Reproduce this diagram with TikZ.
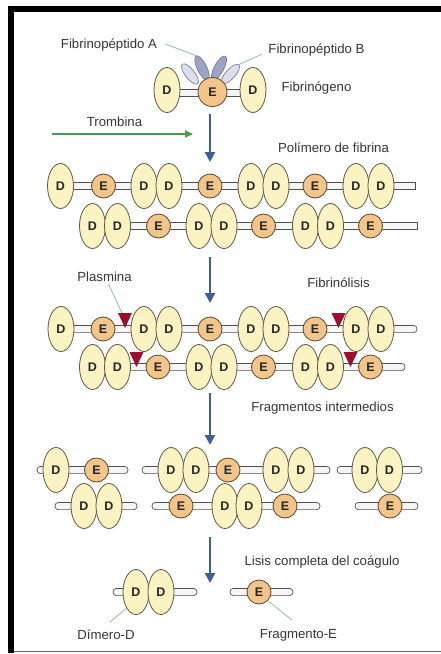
\documentclass[tikz,border=0pt]{standalone}
\usepackage{fontspec}
\setmainfont{Liberation Sans}
\usetikzlibrary{shapes.geometric,arrows.meta}

\definecolor{txt}{HTML}{363636}
\definecolor{lettr}{HTML}{262626}
\definecolor{dfill}{HTML}{FBF3C2}
\definecolor{dline}{HTML}{5E5644}
\definecolor{efill}{HTML}{F2C68A}
\definecolor{eline}{HTML}{5E4628}
\definecolor{rodline}{HTML}{505050}
\definecolor{rodfill}{HTML}{F6F6F6}
\definecolor{pepdark}{HTML}{9CA3C4}
\definecolor{peplight}{HTML}{DCDEEB}
\definecolor{pepline}{HTML}{6C7292}
\definecolor{arrowgreen}{HTML}{4E9A54}
\definecolor{leadgreen}{HTML}{8CC394}
\definecolor{stageblue}{HTML}{3E5F93}
\definecolor{cutred}{HTML}{9B1030}

\tikzset{
  dnode/.style={ellipse, draw=dline, fill=dfill, line width=0.8pt,
    minimum width=26pt, minimum height=45pt, inner sep=0pt,
    font=\bfseries\fontsize{12.5}{12.5}\selectfont, text=lettr},
  enode/.style={circle, draw=eline, fill=efill, line width=0.8pt,
    minimum size=24pt, inner sep=0pt,
    font=\bfseries\fontsize{12.5}{12.5}\selectfont, text=lettr},
  pep/.style={ellipse, draw=pepline, line width=0.6pt,
    minimum width=25pt, minimum height=9.5pt, inner sep=0pt},
  lbl/.style={font=\fontsize{13.2}{15}\selectfont, text=txt, inner sep=0pt},
  rodbar/.style={draw=rodline, fill=rodfill, line width=0.7pt},
  stage/.style={draw=stageblue, line width=2.8pt,
    -{Triangle[length=10pt,width=10pt]}},
  leader/.style={draw=leadgreen, line width=0.8pt},
  cutmark/.style={fill=cutred},
}

% rod segment with square ends: x1, x2, y
\newcommand\rodsq[3]{\draw[rodbar] (#1,{#3-3.6}) rectangle (#2,{#3+3.6});}
% rod segment with rounded ends: x1, x2, y
\newcommand\rodrd[3]{\draw[rodbar, rounded corners=3.4pt] (#1,{#3-3.6}) rectangle (#2,{#3+3.6});}
% cleavage mark: top-centre x, top y, name
\newcommand\cutat[3]{\coordinate (#3) at (#1,#2);
  \fill[cutmark] ({#1-7},#2) -- ({#1+7},#2) -- (#1,{#2+15}) -- cycle;}

\begin{document}
\begin{tikzpicture}[x=1pt,y=-1pt]
\useasboundingbox (0,0) rectangle (441,654);
\fill[white] (0,0) rectangle (441,654);

% frame
\draw[line width=1.4pt, black!60] (11,651.5) -- (445,651.5);
\draw[line width=6pt] (446,8.5) -- (11,8.5) -- (11,652.5);

% ---------------- fibrinogen ----------------
\rodsq{167}{253}{93}
\node[pep, fill=peplight, rotate=-52] (pepOL) at (190,74) {};
\node[pep, fill=pepdark, rotate=-64, minimum width=27pt] (pepIL) at (202,68) {};
\node[pep, fill=pepdark, rotate=62, minimum width=27pt] (pepIR) at (219,68) {};
\node[pep, fill=peplight, rotate=48] (pepOR) at (230.5,74) {};
\node[dnode] (fgD1) at (167,90) {D};
\node[enode, minimum size=29pt] (fgE) at (212.5,92) {E};
\node[dnode] (fgD2) at (253,90) {D};

\node[lbl] (fpA) at (109,45) {Fibrinopéptido A};
\node[lbl] (fpB) at (316.5,50) {Fibrinopéptido B};
\node[lbl] (fgn) at (316.5,88) {Fibrinógeno};
\draw[leader] ([xshift=8pt,yshift=1pt]fpA.east) -- (pepIL.west);
\draw[leader] ([xshift=-6pt,yshift=-4pt]fpB.west) -- (pepOR.east);

% thrombin
\node[lbl] (trb) at (114.5,122) {Trombina};
\coordinate (tA) at (52,134);
\coordinate (tB) at (193,134);
\draw[draw=arrowgreen, line width=1.8pt, -{Triangle[length=8pt,width=7pt]}] (tA) -- (tB);

\coordinate (s1a) at (210,114);
\coordinate (s1b) at (210,162);
\draw[stage] (s1a) -- (s1b);

% ---------------- fibrin polymer ----------------
\node[lbl] (pol) at (333.5,148) {Polímero de fibrina};
\rodsq{60}{415}{186}
\foreach \x [count=\i] in {60.5,144,169,251,276,356,381}
  \node[dnode] (pa\i) at (\x,186) {D};
\foreach \x [count=\i] in {103.5,210,315}
  \node[enode] (pae\i) at (\x,186) {E};
\rodsq{92}{417}{226}
\foreach \x [count=\i] in {92.5,117.5,199,224,305.5,330.5}
  \node[dnode] (pb\i) at (\x,226) {D};
\foreach \x [count=\i] in {158.5,263.5,370.5}
  \node[enode] (pbe\i) at (\x,226) {E};

\coordinate (s2a) at (210,257);
\coordinate (s2b) at (210,303);
\draw[stage] (s2a) -- (s2b);

% ---------------- fibrinolysis ----------------
\node[lbl] (pls) at (104.5,277) {Plasmina};
\node[lbl] (fls) at (338.5,283) {Fibrinólisis};
\rodrd{60}{417}{329}
\foreach \x [count=\i] in {61,144,169,251,276,356,381}
  \node[dnode] (la\i) at (\x,329) {D};
\foreach \x [count=\i] in {103,210,315}
  \node[enode] (lae\i) at (\x,329) {E};
\rodrd{92}{405}{367}
\foreach \x [count=\i] in {92.5,117.5,199,224,305.5,330.5}
  \node[dnode] (lb\i) at (\x,367) {D};
\foreach \x [count=\i] in {158,263.5,370.5}
  \node[enode] (lbe\i) at (\x,367) {E};
\cutat{125}{313}{cut1}
\cutat{338.5}{313}{cut2}
\cutat{136.5}{352}{cut3}
\cutat{350.5}{352}{cut4}
\draw[leader] ([xshift=4pt,yshift=-2pt]pls.south) -- ([xshift=-3pt]cut1);

\coordinate (s3a) at (210,393);
\coordinate (s3b) at (210,445);
\draw[stage] (s3a) -- (s3b);

% ---------------- intermediate fragments ----------------
\node[lbl] (frg) at (322.5,408) {Fragmentos intermedios};
\rodrd{37}{128}{470}
\node[dnode] (fa1) at (56,470) {D};
\node[enode] (fae1) at (96.5,470) {E};
\rodrd{142}{330}{470}
\foreach \x [count=\i] in {171,196,276,301}
  \node[dnode] (fb\i) at (\x,470) {D};
\node[enode] (fbe1) at (228,470) {E};
\rodrd{337}{422}{470}
\node[dnode] (fc1) at (365,470) {D};
\node[dnode] (fc2) at (389.5,470) {D};

\rodrd{55}{137}{506}
\node[dnode] (fd1) at (84,506) {D};
\node[dnode] (fd2) at (109,506) {D};
\rodrd{152}{320}{506}
\node[enode] (fee1) at (181,506) {E};
\node[dnode] (fe1) at (225,506) {D};
\node[dnode] (fe2) at (249,506) {D};
\node[enode] (fee2) at (285,506) {E};
\rodrd{355}{418}{506}
\node[enode] (ffe1) at (390,506) {E};

\coordinate (s4a) at (210,537);
\coordinate (s4b) at (210,583);
\draw[stage] (s4a) -- (s4b);

% ---------------- complete lysis ----------------
\node[lbl] (lis) at (322,562) {Lisis completa del coágulo};
\rodrd{113}{197}{592}
\node[dnode] (dd1) at (136,592) {D};
\node[dnode] (dd2) at (161,592) {D};
\rodrd{230}{293}{592}
\node[enode] (fE) at (259,592) {E};

\node[lbl] (dim) at (106,635) {Dímero-D};
\node[lbl] (fre) at (298.5,635) {Fragmento-E};
\coordinate (dimtip) at (110,622);
\coordinate (fretip) at (292,620);
\draw[leader] (dd1.south west) -- (dimtip);
\draw[leader] (fE.south east) -- (fretip);
\end{tikzpicture}
\end{document}
